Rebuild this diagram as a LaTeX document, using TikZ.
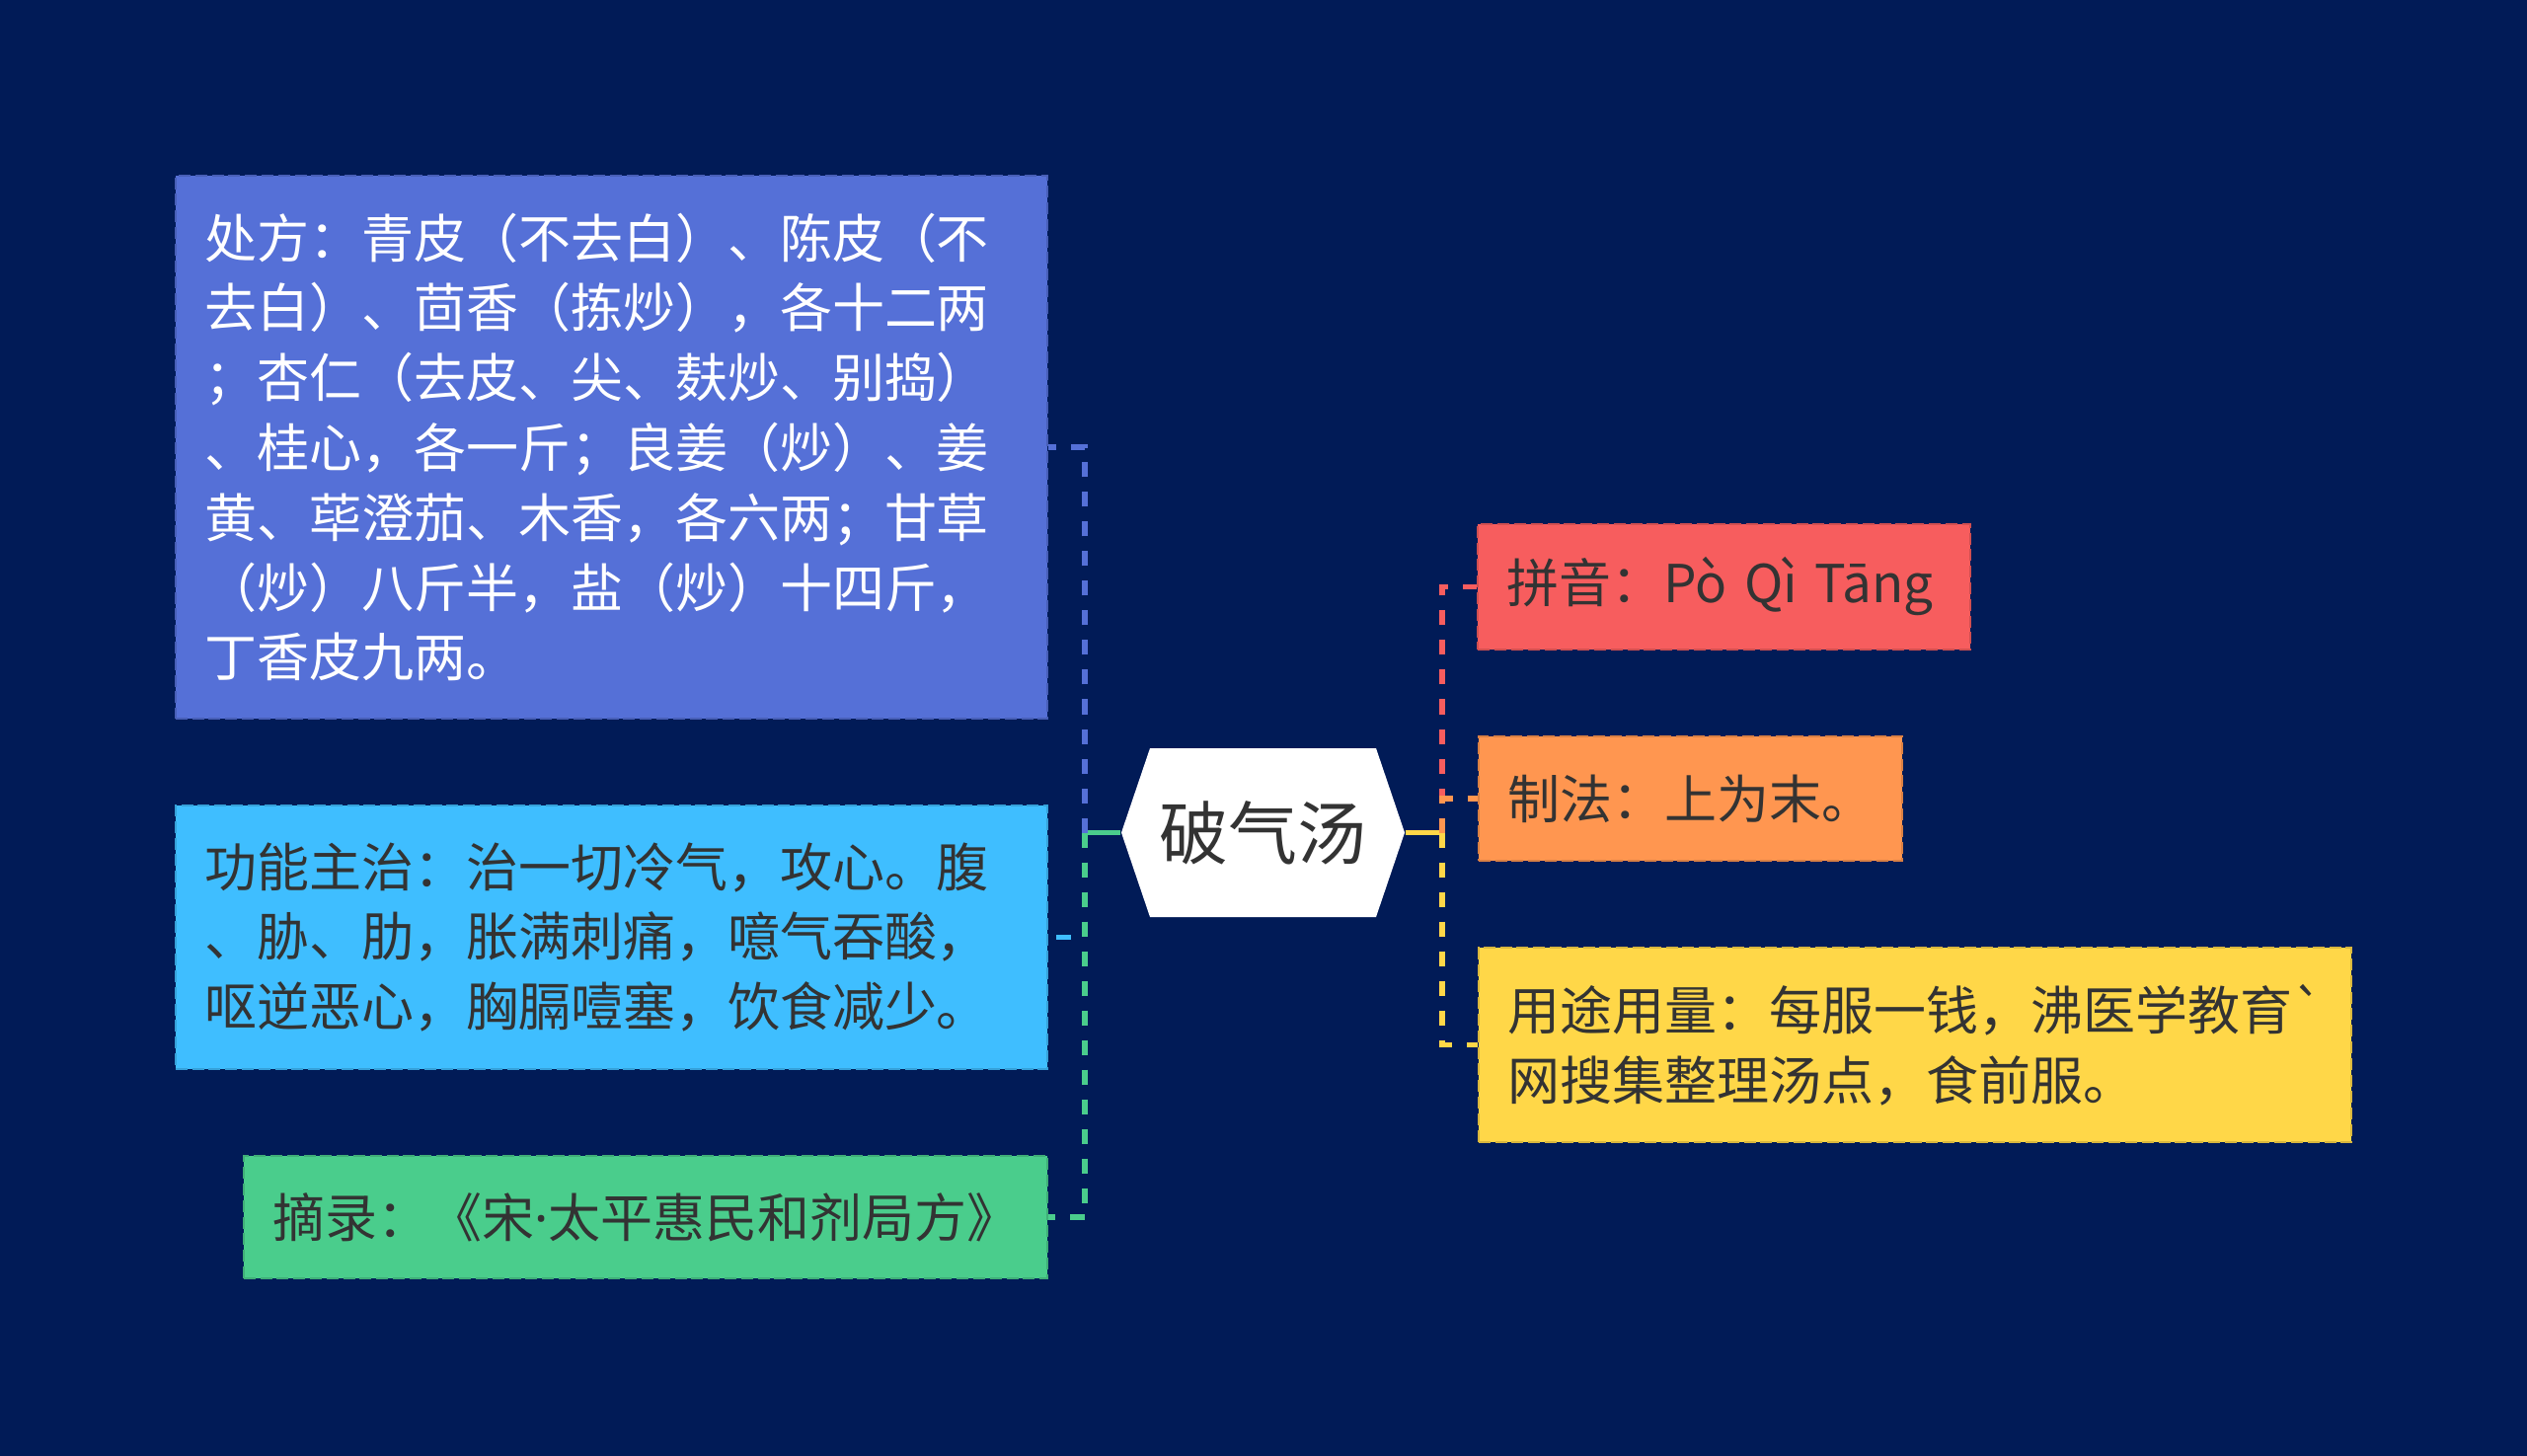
\documentclass[tikz,border=0pt]{standalone}
\usepackage{fontspec}
\setmainfont{Noto Sans CJK SC}[Ligatures=TeXOff]
\newfontfamily\latinfont{Noto Sans}
\usetikzlibrary{calc}

\definecolor{bgnavy}{HTML}{011B57}
\definecolor{cBlue}{HTML}{5570D7}
\definecolor{cSky}{HTML}{3FBEFF}
\definecolor{cGreen}{HTML}{4ACD8C}
\definecolor{cRed}{HTML}{F75D5E}
\definecolor{cOrange}{HTML}{FF9650}
\definecolor{cYellow}{HTML}{FFD748}
\definecolor{inkgray}{HTML}{333333}

\begin{document}
\begin{tikzpicture}[x=0.25pt,y=-0.25pt,
  leaf/.style={fill=#1, draw=#1!85!black, line width=0.5pt,
    dash pattern=on 3pt off 1.2pt, inner xsep=7.3pt, inner ysep=0pt,
    align=left, text=inkgray, font=\fontsize{13.25pt}{17.7pt}\selectfont},
  link/.style={line width=1.3pt, dash pattern=on 3.75pt off 3.75pt},
  stub/.style={line width=1.3pt}]

% Background
\fill[bgnavy] (0,0) rectangle (2560,1475);

% Central topic
\node[fill=bgnavy, inner sep=0pt, minimum width=71.75pt, minimum height=42.75pt,
  text=inkgray, font=\fontsize{17.5pt}{20pt}\selectfont,
  path picture={\fill[white] ([xshift=7.25pt]path picture bounding box.north west)
    -- (path picture bounding box.west)
    -- ([xshift=7.25pt]path picture bounding box.south west)
    -- ([xshift=-7.25pt]path picture bounding box.south east)
    -- (path picture bounding box.east)
    -- ([xshift=-7.25pt]path picture bounding box.north east) -- cycle;}]
  (root) at (1279.5,843.5) {破气汤};

% Left branches
\node[leaf=cBlue, text=white, text width=206.25pt, minimum height=137.5pt] (chufang) at (619.5,453)
  {处方：青皮（不去白）、陈皮（不\\去白）、茴香（拣炒），各十二两\\；杏仁（去皮、尖、麸炒、别捣）\\、桂心，各一斤；良姜（炒）、姜\\黄、荜澄茄、木香，各六两；甘草\\（炒）八斤半，盐（炒）十四斤，\\丁香皮九两。};
\node[leaf=cSky, text width=206.25pt, minimum height=66.75pt] (gongneng) at (619.5,949.5)
  {功能主治：治一切冷气，攻心。腹\\、胁、肋，胀满刺痛，噫气吞酸，\\呕逆恶心，胸膈噎塞，饮食减少。};
\node[leaf=cGreen, text width=189pt, minimum height=31pt] (zhailu) at (654,1233)
  {摘录：《宋{\latinfont ·}太平惠民和剂局方》};

% Right branches
\node[leaf=cRed, text width=110pt, minimum height=31.75pt] (pinyin) at (1746.5,594.5)
  {拼音：Pò Qì Tāng};
\node[leaf=cOrange, text width=92.75pt, minimum height=31.5pt] (zhifa) at (1712.5,809)
  {制法：上为末。};
\node[leaf=cYellow, text width=206.5pt, minimum height=49.25pt] (yongtu) at (1940,1058.5)
  {用途用量：每服一钱，沸医学教育`\\网搜集整理汤点，食前服。};

% Junctions
\coordinate (lj) at (1099,843.5);
\coordinate (rj) at (1461,843.5);

% Connectors
\draw[stub, cGreen] (root.west) -- (lj);
\draw[link, cSky] (lj) |- (gongneng.east);
\draw[link, cGreen] (lj) |- (zhailu.east);
\draw[link, cBlue] (lj) |- (chufang.east);
\draw[stub, cYellow] (root.east) -- (rj);
\foreach \b/\c in {pinyin/cRed,zhifa/cOrange,yongtu/cYellow}
  \draw[link, \c] (rj) |- (\b.west);

\end{tikzpicture}
\end{document}
